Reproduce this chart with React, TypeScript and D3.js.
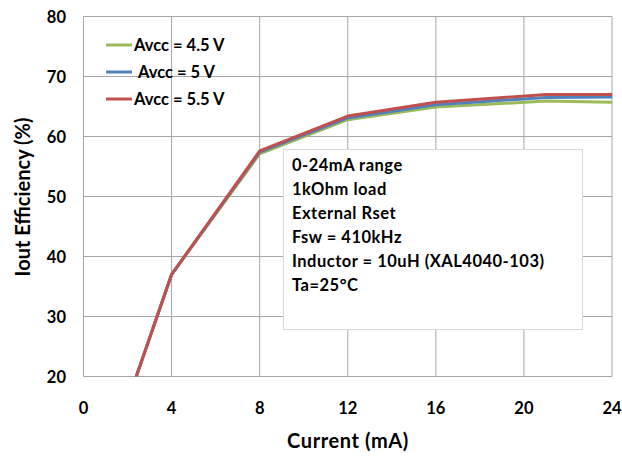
import React, { useEffect, useRef } from "react";
import * as d3 from "d3";

const currents = [2, 4, 8, 12, 16, 21, 24];
const avcc45 = [15.8, 37, 57.1, 62.8, 64.9, 65.9, 65.7];
const avcc5 = [15.8, 37, 57.4, 63.1, 65.3, 66.5, 66.6];
const avcc55 = [15.8, 37, 57.6, 63.4, 65.7, 67.0, 67.0];
const seriesNames = ["Avcc = 4.5 V", "Avcc = 5 V", "Avcc = 5.5 V"];
const seriesColors = ["#9BBB59", "#4F81BD", "#C0504D"];
const xTicks = [0, 4, 8, 12, 16, 20, 24];
const yTicks = [20, 30, 40, 50, 60, 70, 80];
const noteLines = [
  "0-24mA range",
  "1kOhm load",
  "External Rset",
  "Fsw = 410kHz",
  "Inductor = 10uH (XAL4040-103)",
  "Ta=25\u00B0C",
];

const W = 622;
const H = 457;
const FONT = "Lato, 'Liberation Sans', Arial, sans-serif";

function EfficiencyChart() {
  const ref = useRef<SVGSVGElement | null>(null);

  useEffect(() => {
    const svg = d3.select(ref.current);
    svg.selectAll("*").remove();

    const left = 83.5;
    const right = 612;
    const top = 16.5;
    const bottom = 376.5;

    const x = d3.scaleLinear().domain([0, 24]).range([left, right]);
    const y = d3.scaleLinear().domain([20, 80]).range([bottom, top]);

    // clip for lines
    svg
      .append("defs")
      .append("clipPath")
      .attr("id", "plotclip")
      .append("rect")
      .attr("x", left)
      .attr("y", top)
      .attr("width", right - left)
      .attr("height", bottom - top);

    // grid
    const grid = svg.append("g");
    grid
      .selectAll(".vg")
      .data(xTicks)
      .join("line")
      .attr("x1", (d) => x(d))
      .attr("x2", (d) => x(d))
      .attr("y1", top)
      .attr("y2", bottom)
      .attr("stroke", "#A6A6A6")
      .attr("stroke-width", 1);
    grid
      .selectAll(".hg")
      .data(yTicks)
      .join("line")
      .attr("x1", left)
      .attr("x2", right)
      .attr("y1", (d) => y(d))
      .attr("y2", (d) => y(d))
      .attr("stroke", "#A6A6A6")
      .attr("stroke-width", 1);

    // tick labels
    svg
      .append("g")
      .selectAll("text")
      .data(yTicks)
      .join("text")
      .attr("x", 66)
      .attr("y", (d) => y(d) + 6)
      .attr("text-anchor", "end")
      .attr("font-family", FONT)
      .attr("font-weight", "bold")
      .attr("font-size", 16.5)
      .text((d) => d);
    svg
      .append("g")
      .selectAll("text")
      .data(xTicks)
      .join("text")
      .attr("x", (d) => x(d))
      .attr("y", 414)
      .attr("text-anchor", "middle")
      .attr("font-family", FONT)
      .attr("font-weight", "bold")
      .attr("font-size", 16.5)
      .text((d) => d);

    // axis titles
    svg
      .append("text")
      .attr("x", 348)
      .attr("y", 448)
      .attr("text-anchor", "middle")
      .attr("font-family", FONT)
      .attr("font-weight", "bold")
      .attr("font-size", 20)
      .attr("letter-spacing", 0.6)
      .text("Current (mA)");
    svg
      .append("text")
      .attr("transform", "translate(30,197) rotate(-90)")
      .attr("text-anchor", "middle")
      .attr("font-family", FONT)
      .attr("font-weight", "bold")
      .attr("font-size", 20)
      .text("Iout Efficiency (%)");

    // series
    const line = d3
      .line<number>()
      .x((_, i) => x(currents[i]))
      .y((v) => y(v));
    const allSeries = [avcc45, avcc5, avcc55];
    svg
      .append("g")
      .attr("clip-path", "url(#plotclip)")
      .selectAll("path")
      .data(allSeries)
      .join("path")
      .attr("d", (d) => line(d))
      .attr("fill", "none")
      .attr("stroke", (_, i) => seriesColors[i])
      .attr("stroke-width", 3)
      .attr("stroke-linejoin", "round");

    // legend
    const legend = svg.append("g");
    seriesNames.forEach((name, i) => {
      const ly = 45 + i * 27;
      legend
        .append("line")
        .attr("x1", 106)
        .attr("x2", 132)
        .attr("y1", ly)
        .attr("y2", ly)
        .attr("stroke", seriesColors[i])
        .attr("stroke-width", 3);
      legend
        .append("text")
        .attr("x", i === 1 ? 138 : 134)
        .attr("y", ly + 6)
        .attr("font-family", FONT)
        .attr("font-weight", "bold")
        .attr("font-size", 16.5)
        .text(name);
    });

    // note box
    const note = svg.append("g");
    note
      .append("rect")
      .attr("x", 283.5)
      .attr("y", 149.5)
      .attr("width", 299)
      .attr("height", 180)
      .attr("fill", "#fff")
      .attr("stroke", "#D9D9D9")
      .attr("stroke-width", 1);
    note
      .selectAll("text")
      .data(noteLines)
      .join("text")
      .attr("x", 292)
      .attr("y", (_, i) => 171 + i * 24)
      .attr("font-family", FONT)
      .attr("font-weight", "bold")
      .attr("font-size", 16.5)
      .attr("letter-spacing", 0.5)
      .text((d) => d);
  }, []);

  return <svg ref={ref} width={W} height={H} style={{ display: "block", background: "#fff" }} />;
}

export default function App() {
  return (
    <div style={{ position: "absolute", left: 0, top: 0 }}>
      <EfficiencyChart />
    </div>
  );
}
